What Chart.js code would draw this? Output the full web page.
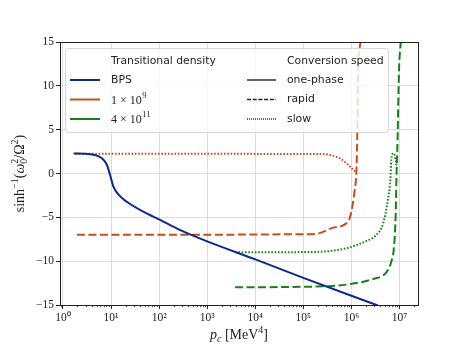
<!DOCTYPE html>
<html>
<head>
<meta charset="utf-8">
<script src="https://cdn.jsdelivr.net/npm/chart.js@4.4.1/dist/chart.umd.min.js"></script>
<style>
  html, body { margin: 0; padding: 0; background: #fff; }
  #wrap { width: 465px; height: 349px; }
</style>
</head>
<body>
<div id="wrap"><canvas id="conv-chart" width="465" height="349"></canvas></div>
<script>
// p_c [MeV^4] vs sinh^-1(w0^2/W^2)

// BPS, one-phase
const pcBps = [1.66, 2.82, 4.68, 6.46, 8.22, 9.55, 11.2, 14.5, 20.9, 46.8, 105, 269, 1000, 1.07e4, 1e5, 1e6, 3.55e6];
const sinhBps = [2.28, 2.26, 2.1, 1.73, 0.97, -0.17, -1.5, -2.45, -3.2, -4.36, -5.3, -6.44, -7.75, -9.86, -11.9, -13.95, -15.05];

// transitional density 1e9, slow conversion
const pc1e9Slow = [1.82, 2.5e5, 3.55e5, 4.9e5, 6.3e5, 7.94e5, 9.55e5, 1.1e6, 1.22e6];
const sinh1e9Slow = [2.25, 2.22, 2.12, 1.9, 1.6, 1.16, 0.75, 0.4, 0.2];

// transitional density 1e9, rapid conversion
const pc1e9Rapid = [1.95, 1.17e5, 2.19e5, 4.07e5, 8.5e5, 1e6, 1.1e6, 1.17e6, 1.27e6, 1.32e6, 1.38e6, 1.55e6, 1.62e6];
const sinh1e9Rapid = [-7.0, -6.92, -6.8, -6.2, -5.5, -4.35, -3.0, -1.9, 0.2, 3.8, 11.7, 15.1, 17];

// transitional density 4e11, slow conversion
const pc4e11Slow = [3.8e3, 1.58e5, 7.9e5, 2.04e6, 3.16e6, 4.57e6, 5.75e6, 6.46e6, 6.76e6, 7.41e6, 7.94e6, 8.3e6, 8.7e6];
const sinh4e11Slow = [-8.99, -8.95, -8.53, -7.7, -7.1, -5.7, -3.0, -0.74, 1.54, 2.3, 2.1, 1.5, 0.78];

// transitional density 4e11, rapid conversion
const pc4e11Rapid = [3.8e3, 3.55e5, 1.26e6, 2.82e6, 4.9e6, 6.03e6, 6.76e6, 7.59e6, 8.32e6, 8.71e6, 9.12e6, 9.77e6, 1.07e7, 1.12e7];
const sinh4e11Rapid = [-12.98, -12.85, -12.5, -12.05, -11.5, -10.8, -10.06, -8.7, -4.9, 0, 3.8, 11.7, 15.1, 17];

// axes
const xDecades = [0, 1, 2, 3, 4, 5, 6, 7];
const xMin = 0.867;
const xMax = 2.43e7;
const yTicks = [-15, -10, -5, 0, 5, 10, 15];

// legend
const densityLabels = ['BPS', '1 × 10^9', '4 × 10^11'];
const densityColors = ['#0c2a8a', '#c0501f', '#1a7f1a'];
const speedLabels = ['one-phase', 'rapid', 'slow'];

const DASHED = [8, 3.5];
const DOTTED = [1.6, 1.7];
const supDigits = { '0': '⁰', '1': '¹', '2': '²', '3': '³', '4': '⁴', '5': '⁵', '6': '⁶', '7': '⁷', '8': '⁸', '9': '⁹' };

/**
 * Zip two arrays into {x, y} points
 */
function toPoints(xs, ys) {
    return xs.map((x, i) => ({ x: x, y: ys[i] }));
}

function makeSeries(xs, ys, color, dash) {
    return {
        data: toPoints(xs, ys),
        borderColor: color,
        borderWidth: 2,
        borderDash: dash,
        showLine: true,
        pointRadius: 0,
        cubicInterpolationMode: 'monotone',
        fill: false
    };
}

/**
 * Draw a run of text pieces ({text, font, dy, advance}) centred on x
 */
function drawRich(ctx, parts, x, y) {
    let total = 0;
    parts.forEach(p => {
        ctx.font = p.font;
        p.w = ctx.measureText(p.text).width;
        if (p.advance !== false) total += p.w;
    });
    let cx = x - total / 2;
    ctx.textBaseline = 'alphabetic';
    ctx.textAlign = 'left';
    parts.forEach(p => {
        ctx.font = p.font;
        ctx.fillText(p.text, cx, y + (p.dy || 0));
        if (p.advance !== false) cx += p.w;
    });
}

/**
 * Legend label, '^' marks a superscript exponent
 */
function drawMathLabel(ctx, label, x, y) {
    ctx.textBaseline = 'middle';
    ctx.textAlign = 'left';
    if (label.indexOf('^') < 0) {
        ctx.font = '10.8px "DejaVu Sans"';
        ctx.fillText(label, x, y);
        return;
    }
    const bits = label.split('^');
    ctx.font = '12px "Liberation Serif"';
    ctx.fillText(bits[0], x, y + 1);
    const w = ctx.measureText(bits[0]).width;
    ctx.font = '8.5px "Liberation Serif"';
    ctx.fillText(bits[1], x + w + 0.5, y - 4);
}

const framePlugin = {
    id: 'frame',
    afterDatasetsDraw(chart) {
        const ctx = chart.ctx;
        const a = chart.chartArea;
        const xs = chart.scales.x;

        ctx.save();
        // minor ticks on the log axis
        ctx.strokeStyle = '#222';
        ctx.lineWidth = 0.8;
        for (let e = -1; e <= 7; e++) {
            for (let m = 2; m <= 9; m++) {
                const v = m * Math.pow(10, e);
                if (v < xMin || v > xMax) continue;
                const px = Math.round(xs.getPixelForValue(v)) + 0.5;
                ctx.beginPath();
                ctx.moveTo(px, a.bottom);
                ctx.lineTo(px, a.bottom + 2.2);
                ctx.stroke();
            }
        }
        ctx.restore();
    },
    afterDraw(chart) {
        const ctx = chart.ctx;
        const a = chart.chartArea;
        ctx.save();

        // legend box
        const bx = 65, by = 48, bw = 323, bh = 84;
        ctx.beginPath();
        if (ctx.roundRect) ctx.roundRect(bx + 0.5, by + 0.5, bw, bh, 3);
        else ctx.rect(bx + 0.5, by + 0.5, bw, bh);
        ctx.fillStyle = 'rgba(255,255,255,0.8)';
        ctx.fill();
        ctx.strokeStyle = 'rgba(204,204,204,0.8)';
        ctx.lineWidth = 1;
        ctx.stroke();

        const rows = [80, 99.5, 119];
        ctx.fillStyle = '#222';
        ctx.font = '10.8px "DejaVu Sans"';
        ctx.textBaseline = 'middle';
        ctx.textAlign = 'left';
        ctx.fillText('Transitional density', 111, 61);
        ctx.fillText('Conversion speed', 287, 61);

        const speedDash = [[], [4, 1.7], [1, 1]];
        rows.forEach((ry, i) => {
            ctx.lineWidth = 2;
            ctx.setLineDash([]);
            ctx.strokeStyle = densityColors[i];
            ctx.beginPath();
            ctx.moveTo(70, ry);
            ctx.lineTo(100, ry);
            ctx.stroke();
            ctx.fillStyle = '#222';
            drawMathLabel(ctx, densityLabels[i], 111, ry);

            ctx.lineWidth = 1.4;
            ctx.setLineDash(speedDash[i]);
            ctx.strokeStyle = '#222';
            ctx.beginPath();
            ctx.moveTo(247, ry);
            ctx.lineTo(276, ry);
            ctx.stroke();
            ctx.setLineDash([]);
            ctx.fillStyle = '#222';
            ctx.font = '10.8px "DejaVu Sans"';
            ctx.textBaseline = 'middle';
            ctx.fillText(speedLabels[i], 287, ry);
        });

        // spines
        ctx.strokeStyle = '#222';
        ctx.lineWidth = 1;
        ctx.strokeRect(Math.round(a.left) + 0.5, Math.round(a.top) + 0.5,
            Math.round(a.right - a.left), Math.round(a.bottom - a.top));

        // axis titles
        const serif = '"Liberation Serif"';
        ctx.fillStyle = '#222';
        drawRich(ctx, [
            { text: 'p', font: 'italic 14px ' + serif },
            { text: 'c', font: 'italic 10px ' + serif, dy: 3 },
            { text: ' [MeV', font: '14px ' + serif },
            { text: '4', font: '10px ' + serif, dy: -6 },
            { text: ']', font: '14px ' + serif }
        ], (a.left + a.right) / 2, 339);

        ctx.translate(24, (a.top + a.bottom) / 2);
        ctx.rotate(-Math.PI / 2);
        drawRich(ctx, [
            { text: 'sinh', font: '14px ' + serif },
            { text: '−1', font: '10px ' + serif, dy: -6 },
            { text: '(', font: '14px ' + serif },
            { text: 'ω', font: 'italic 14px ' + serif },
            { text: '0', font: '10px ' + serif, dy: 3, advance: false },
            { text: '2', font: '10px ' + serif, dy: -6 },
            { text: '/Ω', font: '14px ' + serif },
            { text: '2', font: '10px ' + serif, dy: -6 },
            { text: ')', font: '14px ' + serif }
        ], 0, 0);
        ctx.restore();
    }
};

function renderChart() {
    const canvas = document.getElementById('conv-chart');
    const ctx = canvas.getContext('2d');
    const tickFont = { family: 'Liberation Serif', size: 11.5 };

    const config = {
        type: 'scatter',
        data: {
            datasets: [
                makeSeries(pcBps, sinhBps, densityColors[0], []),
                makeSeries(pc1e9Slow, sinh1e9Slow, densityColors[1], DOTTED),
                makeSeries(pc1e9Rapid, sinh1e9Rapid, densityColors[1], DASHED),
                makeSeries(pc4e11Slow, sinh4e11Slow, densityColors[2], DOTTED),
                makeSeries(pc4e11Rapid, sinh4e11Rapid, densityColors[2], DASHED)
            ]
        },
        options: {
            responsive: false,
            animation: false,
            layout: { padding: { left: 0, top: 42, right: 47, bottom: 0 } },
            plugins: {
                legend: { display: false },
                tooltip: { enabled: false }
            },
            scales: {
                x: {
                    type: 'logarithmic',
                    min: xMin,
                    max: xMax,
                    afterBuildTicks: scale => {
                        scale.ticks = xDecades.map(e => ({ value: Math.pow(10, e), major: true }));
                    },
                    afterFit: scale => { scale.height = 44; },
                    grid: { color: '#dcdcdc', lineWidth: 1, tickLength: 4, tickColor: '#222' },
                    border: { display: false },
                    ticks: {
                        autoSkip: false,
                        maxRotation: 0,
                        padding: 2,
                        color: '#222',
                        font: tickFont,
                        callback: function(value) {
                            const e = Math.round(Math.log10(value));
                            return '10' + String(e).split('').map(d => supDigits[d]).join('');
                        }
                    }
                },
                y: {
                    type: 'linear',
                    min: -15,
                    max: 15,
                    afterBuildTicks: scale => {
                        scale.ticks = yTicks.map(v => ({ value: v }));
                    },
                    afterFit: scale => { scale.width = 60; },
                    grid: { color: '#dcdcdc', lineWidth: 1, tickLength: 4, tickColor: '#222' },
                    border: { display: false },
                    ticks: {
                        padding: 2,
                        color: '#222',
                        font: tickFont,
                        callback: function(value) {
                            return value < 0 ? '−' + Math.abs(value) : String(value);
                        }
                    }
                }
            }
        },
        plugins: [framePlugin]
    };

    new Chart(ctx, config);
}

renderChart();
</script>
</body>
</html>
